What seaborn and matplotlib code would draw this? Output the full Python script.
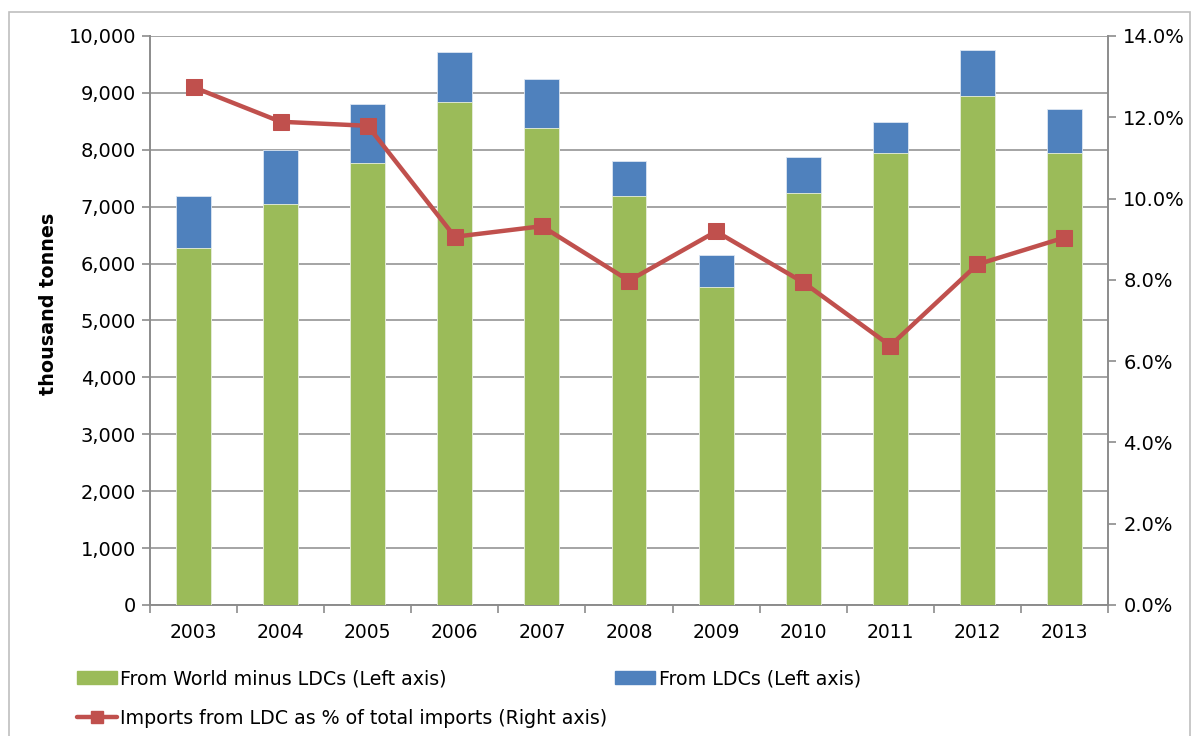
import numpy as np
import pandas as pd
import matplotlib
matplotlib.use("Agg")
import matplotlib.pyplot as plt
import seaborn as sns
from matplotlib.lines import Line2D
from matplotlib.patches import Patch, Rectangle
from matplotlib.ticker import FuncFormatter, MultipleLocator

# data
years = ['2003', '2004', '2005', '2006', '2007', '2008', '2009', '2010', '2011', '2012', '2013']
world_minus_ldc = [6270, 7045, 7765, 8840, 8385, 7180, 5590, 7245, 7950, 8950, 7940]
from_ldc = [910, 950, 1040, 880, 860, 620, 565, 620, 530, 805, 785]
ldc_share_pct = [12.74, 11.89, 11.79, 9.06, 9.32, 7.98, 9.19, 7.94, 6.38, 8.38, 9.04]

green = '#9BBB59'
blue = '#4F81BD'
red = '#C0504D'
grid_grey = '#8C8C8C'

sns.set_theme(style='white')
plt.rcParams['font.family'] = ['DejaVu Sans']
plt.rcParams['text.color'] = 'black'
plt.rcParams['axes.labelcolor'] = 'black'
plt.rcParams['xtick.color'] = 'black'
plt.rcParams['ytick.color'] = 'black'

df = pd.DataFrame({'year': years, 'world': world_minus_ldc, 'ldc': from_ldc, 'share': ldc_share_pct})
df['total'] = df['world'] + df['ldc']

fig = plt.figure(figsize=(11.98, 7.36), dpi=100)
ax = fig.add_axes([0.1252, 0.178, 0.7997, 0.7731])

# stacked bars: total (blue) underneath, world part (green) on top of it
sns.barplot(data=df, x='year', y='total', color=blue, width=0.4, saturation=1,
            edgecolor='#DCE6F2', linewidth=0.6, ax=ax, zorder=2)
sns.barplot(data=df, x='year', y='world', color=green, width=0.4, saturation=1,
            edgecolor='#EBF1DE', linewidth=0.6, ax=ax, zorder=3)

ax.set_xlim(-0.5, len(years) - 0.5)
ax.set_ylim(0, 10000)
ax.yaxis.set_major_locator(MultipleLocator(1000))
ax.yaxis.set_major_formatter(FuncFormatter(lambda v, p: f'{int(v):,}'))
ax.grid(axis='y', color=grid_grey, linewidth=1.1, zorder=0)
ax.set_axisbelow(True)
ax.set_xlabel('')
ax.set_ylabel('thousand tonnes', fontsize=13.8, fontweight='bold')
ax.yaxis.set_label_coords(-0.096, 0.53)

# category ticks sit between the bars, labels centred under them
ax.set_xticks(np.arange(len(years) + 1) - 0.5, minor=False)
ax.set_xticklabels([])
ax.set_xticks(np.arange(len(years)), minor=True)
ax.set_xticklabels(years, minor=True)
ax.tick_params(axis='x', which='major', direction='out', length=6, width=1.2, color=grid_grey, bottom=True)
ax.tick_params(axis='x', which='minor', length=0, labelsize=13.5, pad=13, labelcolor='black')
ax.tick_params(axis='y', direction='out', length=6, width=1.2, color=grid_grey, left=True,
               labelsize=14, pad=4, labelcolor='black')

for side in ['top', 'right']:
    ax.spines[side].set_visible(False)
for side in ['left', 'bottom']:
    ax.spines[side].set_color(grid_grey)
    ax.spines[side].set_linewidth(1.4)

# right axis: LDC share of imports
ax2 = ax.twinx()
sns.lineplot(x=np.arange(len(years)), y=df['share'], color=red, linewidth=3.2,
             marker='s', markersize=11, markeredgecolor=red, ax=ax2, zorder=5)
ax2.set_ylim(0, 14)
ax2.yaxis.set_major_locator(MultipleLocator(2))
ax2.yaxis.set_major_formatter(FuncFormatter(lambda v, p: f'{v:.1f}%'))
ax2.set_ylabel('')
ax2.tick_params(axis='y', direction='out', length=6, width=1.2, color=grid_grey, right=True,
                labelsize=14, pad=5, labelcolor='black')
for side in ['top', 'left', 'bottom']:
    ax2.spines[side].set_visible(False)
ax2.spines['right'].set_color(grid_grey)
ax2.spines['right'].set_linewidth(1.4)
ax2.grid(False)

# legend below the plot, Excel-style
handles = [
    Patch(facecolor=green, edgecolor=green, label='From World minus LDCs (Left axis)'),
    Line2D([0], [0], color=red, linewidth=3.2, marker='s', markersize=9,
           label='Imports from LDC as % of total imports (Right axis)'),
    Patch(facecolor=blue, edgecolor=blue, label='From LDCs (Left axis)'),
]
fig.legend(handles=handles, ncol=2, loc='upper left', bbox_to_anchor=(0.064, 0.091),
           frameon=False, fontsize=13.7, handlelength=2.1, handleheight=0.7,
           handletextpad=0.2, columnspacing=0.4, labelspacing=1.1, borderpad=0, borderaxespad=0)

# thin outer frame
fig.patches.append(Rectangle((9 / 1198, -0.01), 1181 / 1198, 1 - 12 / 736 + 0.01,
                             transform=fig.transFigure, fill=False,
                             edgecolor='#BFBFBF', linewidth=1.2))

fig.savefig('out.png', dpi=100)
